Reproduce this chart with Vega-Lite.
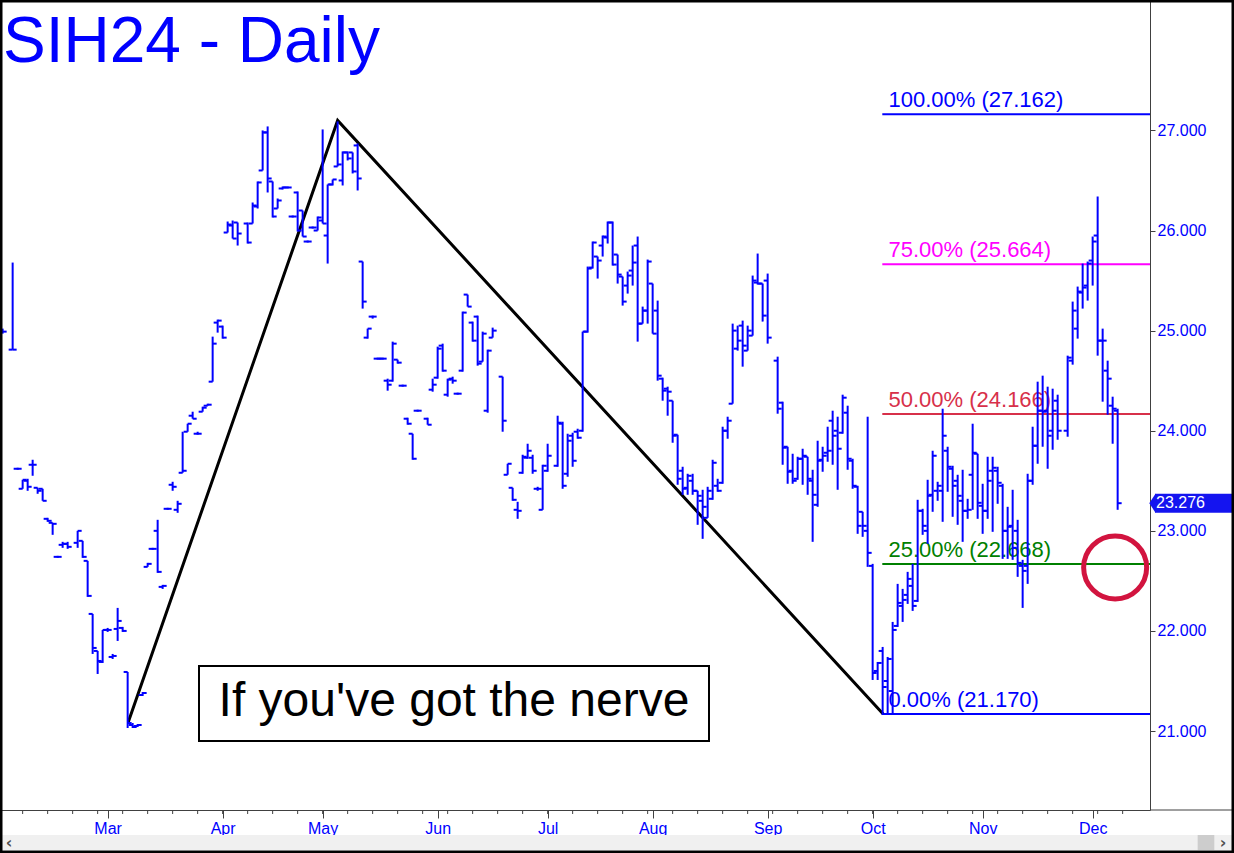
{
  "$schema": "https://vega.github.io/schema/vega-lite/v6.json",
  "width": 1150,
  "height": 810,
  "autosize": {"type": "none"},
  "padding": {"left": 0, "top": 0, "right": 84, "bottom": 43},
  "background": "white",
  "config": {
    "view": {"stroke": null},
    "font": "Liberation Sans",
    "axisX": {"labelOverlap": false, "labelBound": false, "labelFlush": false, "labelPadding": 2, "labelColor": "#0000ff", "labelFontSize": 16, "labelFont": "Liberation Sans", "domainColor": "#404040", "tickColor": "#404040", "tickSize": 8, "grid": false},
    "axisY": {"labelOverlap": false, "labelColor": "#0000ff", "labelFontSize": 16, "labelFont": "Liberation Sans", "labelPadding": 2, "tickSize": 5, "domainColor": "#404040", "tickColor": "#404040", "grid": false}
  },
  "datasets": {
    "bars": [
      {"i":-21,"o":25.00,"h":25.02,"l":24.97,"c":24.99},
      {"i":-19,"o":24.81,"h":25.68,"l":24.81,"c":24.81},
      {"i":-18,"o":23.62,"h":23.63,"l":23.61,"c":23.62},
      {"i":-17,"o":23.42,"h":23.51,"l":23.42,"c":23.51},
      {"i":-16,"o":23.50,"h":23.52,"l":23.40,"c":23.44},
      {"i":-15,"o":23.66,"h":23.71,"l":23.55,"c":23.66},
      {"i":-14,"o":23.43,"h":23.43,"l":23.37,"c":23.40},
      {"i":-13,"o":23.42,"h":23.42,"l":23.30,"c":23.30},
      {"i":-12,"o":23.12,"h":23.13,"l":23.09,"c":23.10},
      {"i":-11,"o":23.08,"h":23.08,"l":22.96,"c":23.07},
      {"i":-10,"o":22.74,"h":22.75,"l":22.73,"c":22.74},
      {"i":-9,"o":22.86,"h":22.89,"l":22.83,"c":22.87},
      {"i":-8,"o":22.87,"h":22.89,"l":22.82,"c":22.84},
      {"i":-6,"o":22.88,"h":23.00,"l":22.83,"c":23.00},
      {"i":-5,"o":22.90,"h":22.90,"l":22.73,"c":22.74},
      {"i":-4,"o":22.70,"h":22.70,"l":22.34,"c":22.35},
      {"i":-3,"o":22.17,"h":22.17,"l":21.77,"c":21.83},
      {"i":-2,"o":21.80,"h":21.80,"l":21.57,"c":21.70},
      {"i":-1,"o":21.69,"h":22.01,"l":21.68,"c":22.01},
      {"i":0,"o":22.01,"h":22.03,"l":21.99,"c":22.01},
      {"i":1,"o":21.74,"h":21.77,"l":21.72,"c":21.75},
      {"i":2,"o":22.02,"h":22.23,"l":21.90,"c":22.10},
      {"i":3,"o":22.03,"h":22.04,"l":21.99,"c":22.00},
      {"i":4,"o":21.59,"h":21.59,"l":21.03,"c":21.08},
      {"i":5,"o":21.06,"h":21.08,"l":21.03,"c":21.04},
      {"i":6,"o":21.05,"h":21.07,"l":21.04,"c":21.06},
      {"i":7,"o":21.36,"h":21.39,"l":21.35,"c":21.38},
      {"i":8,"o":22.64,"h":22.68,"l":22.64,"c":22.67},
      {"i":9,"o":22.82,"h":22.83,"l":22.81,"c":22.82},
      {"i":10,"o":23.00,"h":23.11,"l":22.58,"c":22.59},
      {"i":11,"o":22.44,"h":22.46,"l":22.42,"c":22.45},
      {"i":12,"o":23.22,"h":23.23,"l":23.21,"c":23.22},
      {"i":13,"o":23.46,"h":23.49,"l":23.40,"c":23.44},
      {"i":14,"o":23.21,"h":23.30,"l":23.18,"c":23.27},
      {"i":15,"o":23.58,"h":23.99,"l":23.58,"c":23.60},
      {"i":16,"o":23.99,"h":24.07,"l":23.99,"c":24.07},
      {"i":17,"o":24.15,"h":24.19,"l":24.12,"c":24.12},
      {"i":18,"o":23.97,"h":23.99,"l":23.96,"c":23.97},
      {"i":19,"o":24.19,"h":24.24,"l":24.19,"c":24.23},
      {"i":20,"o":24.25,"h":24.27,"l":24.25,"c":24.26},
      {"i":21,"o":24.49,"h":24.94,"l":24.49,"c":24.87},
      {"i":22,"o":25.08,"h":25.11,"l":24.98,"c":25.10},
      {"i":23,"o":25.04,"h":25.05,"l":24.92,"c":24.93},
      {"i":24,"o":25.98,"h":26.09,"l":25.98,"c":26.06},
      {"i":25,"o":26.05,"h":26.10,"l":25.92,"c":25.92},
      {"i":26,"o":26.08,"h":26.08,"l":25.85,"c":25.97},
      {"i":28,"o":26.07,"h":26.08,"l":25.87,"c":25.88},
      {"i":29,"o":26.07,"h":26.28,"l":26.07,"c":26.25},
      {"i":30,"o":26.24,"h":26.49,"l":26.22,"c":26.48},
      {"i":31,"o":26.60,"h":27.00,"l":26.60,"c":26.98},
      {"i":32,"o":26.98,"h":27.04,"l":26.38,"c":26.52},
      {"i":33,"o":26.49,"h":26.49,"l":26.13,"c":26.14},
      {"i":34,"o":26.22,"h":26.32,"l":26.22,"c":26.30},
      {"i":35,"o":26.42,"h":26.44,"l":26.41,"c":26.43},
      {"i":36,"o":26.43,"h":26.44,"l":26.42,"c":26.43},
      {"i":37,"o":26.14,"h":26.15,"l":26.13,"c":26.14},
      {"i":38,"o":26.38,"h":26.39,"l":25.99,"c":26.00},
      {"i":39,"o":26.20,"h":26.20,"l":25.94,"c":25.94},
      {"i":40,"o":25.89,"h":25.90,"l":25.88,"c":25.89},
      {"i":41,"o":26.03,"h":26.04,"l":26.02,"c":26.03},
      {"i":42,"o":26.00,"h":26.14,"l":26.00,"c":26.13},
      {"i":43,"o":26.10,"h":27.01,"l":26.07,"c":26.07},
      {"i":44,"o":25.95,"h":26.46,"l":25.67,"c":26.46},
      {"i":45,"o":26.46,"h":26.51,"l":26.45,"c":26.51},
      {"i":46,"o":26.64,"h":27.09,"l":26.64,"c":26.66},
      {"i":47,"o":26.50,"h":26.79,"l":26.45,"c":26.78},
      {"i":48,"o":26.78,"h":26.79,"l":26.70,"c":26.72},
      {"i":49,"o":26.78,"h":26.78,"l":26.57,"c":26.59},
      {"i":50,"o":26.85,"h":26.87,"l":26.40,"c":26.52},
      {"i":51,"o":25.69,"h":25.69,"l":25.22,"c":25.29},
      {"i":52,"o":24.93,"h":25.02,"l":24.92,"c":25.02},
      {"i":53,"o":25.14,"h":25.15,"l":25.12,"c":25.14},
      {"i":54,"o":24.72,"h":24.73,"l":24.71,"c":24.72},
      {"i":55,"o":24.72,"h":24.73,"l":24.71,"c":24.72},
      {"i":56,"o":24.50,"h":24.52,"l":24.40,"c":24.46},
      {"i":57,"o":24.50,"h":24.89,"l":24.49,"c":24.87},
      {"i":58,"o":24.71,"h":24.71,"l":24.67,"c":24.68},
      {"i":59,"o":24.45,"h":24.46,"l":24.44,"c":24.45},
      {"i":60,"o":24.12,"h":24.13,"l":24.06,"c":24.07},
      {"i":61,"o":23.97,"h":23.97,"l":23.71,"c":23.72},
      {"i":62,"o":24.20,"h":24.21,"l":24.19,"c":24.20},
      {"i":64,"o":24.12,"h":24.13,"l":24.06,"c":24.06},
      {"i":65,"o":24.41,"h":24.52,"l":24.39,"c":24.46},
      {"i":66,"o":24.53,"h":24.84,"l":24.52,"c":24.82},
      {"i":67,"o":24.85,"h":24.87,"l":24.59,"c":24.60},
      {"i":68,"o":24.36,"h":24.52,"l":24.34,"c":24.51},
      {"i":69,"o":24.52,"h":24.54,"l":24.47,"c":24.50},
      {"i":70,"o":24.37,"h":24.38,"l":24.36,"c":24.37},
      {"i":71,"o":24.60,"h":25.19,"l":24.59,"c":25.18},
      {"i":72,"o":25.36,"h":25.36,"l":25.24,"c":25.24},
      {"i":73,"o":25.08,"h":25.09,"l":24.89,"c":24.90},
      {"i":74,"o":25.14,"h":25.15,"l":24.65,"c":24.67},
      {"i":75,"o":24.69,"h":24.99,"l":24.69,"c":24.97},
      {"i":76,"o":24.20,"h":24.81,"l":24.18,"c":24.80},
      {"i":77,"o":24.93,"h":25.03,"l":24.93,"c":25.00},
      {"i":79,"o":24.54,"h":24.54,"l":23.99,"c":24.10},
      {"i":80,"o":23.56,"h":23.67,"l":23.56,"c":23.67},
      {"i":81,"o":23.43,"h":23.43,"l":23.30,"c":23.31},
      {"i":82,"o":23.21,"h":23.29,"l":23.12,"c":23.20},
      {"i":83,"o":23.58,"h":23.76,"l":23.57,"c":23.74},
      {"i":84,"o":23.73,"h":23.87,"l":23.72,"c":23.80},
      {"i":85,"o":23.73,"h":23.76,"l":23.57,"c":23.60},
      {"i":86,"o":23.42,"h":23.44,"l":23.40,"c":23.42},
      {"i":87,"o":23.21,"h":23.66,"l":23.21,"c":23.65},
      {"i":88,"o":23.60,"h":23.87,"l":23.59,"c":23.75},
      {"i":90,"o":23.65,"h":24.15,"l":23.64,"c":24.08},
      {"i":91,"o":24.07,"h":24.09,"l":23.42,"c":23.45},
      {"i":92,"o":23.57,"h":23.97,"l":23.54,"c":23.90},
      {"i":93,"o":23.95,"h":23.98,"l":23.64,"c":23.70},
      {"i":94,"o":23.99,"h":24.02,"l":23.92,"c":23.93},
      {"i":95,"o":24.00,"h":24.99,"l":23.99,"c":24.99},
      {"i":96,"o":24.99,"h":25.64,"l":24.98,"c":25.62},
      {"i":97,"o":25.63,"h":25.89,"l":25.62,"c":25.88},
      {"i":98,"o":25.74,"h":25.74,"l":25.52,"c":25.70},
      {"i":99,"o":25.85,"h":25.95,"l":25.74,"c":25.94},
      {"i":100,"o":25.93,"h":26.09,"l":25.87,"c":26.08},
      {"i":101,"o":26.08,"h":26.09,"l":25.65,"c":25.66},
      {"i":102,"o":25.76,"h":25.76,"l":25.47,"c":25.56},
      {"i":103,"o":25.54,"h":25.54,"l":25.25,"c":25.29},
      {"i":104,"o":25.45,"h":25.59,"l":25.37,"c":25.55},
      {"i":105,"o":25.60,"h":25.85,"l":25.45,"c":25.68},
      {"i":106,"o":25.85,"h":25.94,"l":24.89,"c":25.07},
      {"i":107,"o":25.07,"h":25.24,"l":25.07,"c":25.20},
      {"i":108,"o":25.20,"h":25.71,"l":25.07,"c":25.69},
      {"i":109,"o":25.47,"h":25.47,"l":24.97,"c":24.97},
      {"i":110,"o":25.20,"h":25.30,"l":24.50,"c":24.55},
      {"i":111,"o":24.52,"h":24.53,"l":24.30,"c":24.40},
      {"i":112,"o":24.42,"h":24.44,"l":24.15,"c":24.39},
      {"i":113,"o":24.30,"h":24.30,"l":23.88,"c":23.95},
      {"i":114,"o":23.96,"h":23.96,"l":23.46,"c":23.52},
      {"i":115,"o":23.60,"h":23.64,"l":23.36,"c":23.42},
      {"i":116,"o":23.43,"h":23.57,"l":23.36,"c":23.55},
      {"i":117,"o":23.50,"h":23.57,"l":23.36,"c":23.40},
      {"i":118,"o":23.40,"h":23.40,"l":23.06,"c":23.35},
      {"i":119,"o":23.30,"h":23.41,"l":22.92,"c":23.24},
      {"i":120,"o":23.13,"h":23.44,"l":23.13,"c":23.40},
      {"i":121,"o":23.32,"h":23.71,"l":23.31,"c":23.68},
      {"i":122,"o":23.45,"h":23.52,"l":23.39,"c":23.40},
      {"i":123,"o":23.48,"h":24.04,"l":23.47,"c":24.00},
      {"i":124,"o":24.00,"h":24.14,"l":23.92,"c":24.10},
      {"i":125,"o":24.27,"h":25.07,"l":24.27,"c":25.00},
      {"i":126,"o":24.82,"h":25.05,"l":24.80,"c":24.90},
      {"i":127,"o":25.05,"h":25.10,"l":24.64,"c":24.85},
      {"i":128,"o":24.80,"h":25.05,"l":24.80,"c":25.00},
      {"i":129,"o":24.95,"h":25.55,"l":24.95,"c":25.50},
      {"i":130,"o":25.48,"h":25.77,"l":25.46,"c":25.47},
      {"i":131,"o":25.47,"h":25.47,"l":25.09,"c":25.15},
      {"i":132,"o":25.50,"h":25.57,"l":24.87,"c":24.93},
      {"i":134,"o":24.70,"h":24.74,"l":24.17,"c":24.22},
      {"i":135,"o":24.28,"h":24.29,"l":23.66,"c":23.83},
      {"i":136,"o":23.84,"h":23.84,"l":23.47,"c":23.59},
      {"i":137,"o":23.60,"h":23.77,"l":23.47,"c":23.50},
      {"i":138,"o":23.52,"h":23.74,"l":23.51,"c":23.72},
      {"i":139,"o":23.72,"h":23.82,"l":23.46,"c":23.75},
      {"i":140,"o":23.74,"h":23.74,"l":23.36,"c":23.52},
      {"i":141,"o":23.50,"h":23.61,"l":22.89,"c":23.36},
      {"i":142,"o":23.26,"h":23.90,"l":23.24,"c":23.70},
      {"i":143,"o":23.71,"h":23.84,"l":23.59,"c":23.75},
      {"i":144,"o":23.78,"h":24.04,"l":23.69,"c":23.80},
      {"i":145,"o":24.10,"h":24.20,"l":23.66,"c":23.95},
      {"i":146,"o":24.00,"h":24.14,"l":23.41,"c":23.82},
      {"i":147,"o":23.98,"h":24.36,"l":23.97,"c":24.33},
      {"i":148,"o":24.18,"h":24.25,"l":23.61,"c":23.72},
      {"i":149,"o":23.70,"h":23.72,"l":23.42,"c":23.45},
      {"i":150,"o":23.44,"h":23.45,"l":22.97,"c":23.05},
      {"i":151,"o":23.19,"h":23.19,"l":22.94,"c":23.05},
      {"i":152,"o":23.00,"h":24.14,"l":22.64,"c":22.78},
      {"i":153,"o":22.65,"h":22.67,"l":21.51,"c":21.58},
      {"i":154,"o":21.60,"h":21.69,"l":21.51,"c":21.68},
      {"i":155,"o":21.80,"h":21.84,"l":21.16,"c":21.44},
      {"i":156,"o":21.50,"h":21.74,"l":21.16,"c":21.72},
      {"i":157,"o":21.40,"h":22.09,"l":21.16,"c":22.01},
      {"i":158,"o":22.05,"h":22.47,"l":22.04,"c":22.28},
      {"i":159,"o":22.25,"h":22.42,"l":22.09,"c":22.31},
      {"i":160,"o":22.36,"h":22.59,"l":22.27,"c":22.52},
      {"i":161,"o":22.45,"h":22.67,"l":22.20,"c":22.25},
      {"i":162,"o":22.30,"h":23.31,"l":22.29,"c":23.20},
      {"i":163,"o":23.20,"h":23.22,"l":22.96,"c":23.05},
      {"i":164,"o":23.00,"h":23.51,"l":22.87,"c":23.35},
      {"i":165,"o":23.36,"h":23.80,"l":23.19,"c":23.75},
      {"i":166,"o":23.40,"h":23.49,"l":23.30,"c":23.45},
      {"i":167,"o":23.40,"h":24.22,"l":23.09,"c":23.95},
      {"i":168,"o":23.80,"h":23.84,"l":23.39,"c":23.64},
      {"i":169,"o":23.62,"h":23.65,"l":23.14,"c":23.45},
      {"i":170,"o":23.50,"h":23.56,"l":23.06,"c":23.35},
      {"i":171,"o":23.30,"h":23.61,"l":22.89,"c":23.20},
      {"i":172,"o":23.20,"h":23.32,"l":23.12,"c":23.21},
      {"i":173,"o":23.56,"h":24.07,"l":23.21,"c":23.78},
      {"i":174,"o":23.77,"h":23.77,"l":23.12,"c":23.28},
      {"i":175,"o":23.25,"h":23.47,"l":22.97,"c":23.20},
      {"i":176,"o":23.20,"h":23.74,"l":23.12,"c":23.50},
      {"i":177,"o":23.60,"h":23.74,"l":22.99,"c":23.63},
      {"i":178,"o":23.60,"h":23.64,"l":23.27,"c":23.48},
      {"i":179,"o":23.45,"h":23.47,"l":22.72,"c":23.00},
      {"i":180,"o":23.00,"h":23.24,"l":22.72,"c":23.04},
      {"i":181,"o":23.05,"h":23.41,"l":22.71,"c":22.83},
      {"i":182,"o":23.00,"h":23.11,"l":22.54,"c":22.68},
      {"i":183,"o":22.65,"h":22.71,"l":22.23,"c":22.60},
      {"i":184,"o":22.65,"h":23.57,"l":22.47,"c":23.50},
      {"i":185,"o":23.50,"h":24.04,"l":23.46,"c":23.85},
      {"i":186,"o":23.85,"h":24.49,"l":23.67,"c":24.20},
      {"i":187,"o":24.20,"h":24.55,"l":23.84,"c":24.19},
      {"i":188,"o":24.20,"h":24.44,"l":23.62,"c":23.95},
      {"i":189,"o":24.00,"h":24.42,"l":23.81,"c":24.20},
      {"i":190,"o":24.30,"h":24.36,"l":23.91,"c":24.00},
      {"i":192,"o":24.00,"h":24.75,"l":23.94,"c":24.73},
      {"i":193,"o":24.70,"h":25.29,"l":24.66,"c":25.20},
      {"i":194,"o":25.02,"h":25.44,"l":24.92,"c":25.39},
      {"i":195,"o":25.38,"h":25.67,"l":25.22,"c":25.43},
      {"i":196,"o":25.45,"h":25.69,"l":25.30,"c":25.67},
      {"i":197,"o":25.70,"h":25.94,"l":25.45,"c":25.89},
      {"i":198,"o":25.95,"h":26.34,"l":24.75,"c":24.90},
      {"i":199,"o":24.90,"h":25.02,"l":24.29,"c":24.90},
      {"i":200,"o":24.60,"h":24.70,"l":24.16,"c":24.52},
      {"i":201,"o":24.25,"h":24.34,"l":23.87,"c":24.22},
      {"i":202,"o":24.20,"h":24.22,"l":23.21,"c":23.276}
    ],
    "fib": [
      {"pct":"100.00%","lvl":27.162,"label":"100.00% (27.162)"},
      {"pct":"75.00%","lvl":25.664,"label":"75.00% (25.664)"},
      {"pct":"50.00%","lvl":24.166,"label":"50.00% (24.166)"},
      {"pct":"25.00%","lvl":22.668,"label":"25.00% (22.668)"},
      {"pct":"0.00%","lvl":21.170,"label":"0.00% (21.170)"}
    ],
    "zigzag": [
      {"i":4.13,"p":21.09},
      {"i":46.0,"p":27.10},
      {"i":155.1,"p":21.17}
    ],
    "weeks": [
      {"i":-17},{"i":-12},{"i":-7},{"i":-2},{"i":3},{"i":8},{"i":13},{"i":18},{"i":23},{"i":28},
      {"i":33},{"i":38},{"i":43},{"i":48},{"i":53},{"i":58},{"i":63},{"i":68},{"i":73},{"i":78},
      {"i":83},{"i":88},{"i":93},{"i":98},{"i":103},{"i":108},{"i":113},{"i":118},{"i":123},{"i":128},
      {"i":133},{"i":138},{"i":143},{"i":148},{"i":153},{"i":158},{"i":163},{"i":168},{"i":173},{"i":178},
      {"i":183},{"i":188},{"i":193},{"i":198},{"i":203}
    ],
    "one": [{}]
  },
  "layer": [
    {
      "data": {"name": "fib"},
      "mark": {"type": "rule", "strokeWidth": 2},
      "encoding": {
        "x": {"datum": 154.93, "type": "quantitative", "title": null,
          "scale": {"domain": [-21.53, 208.47], "nice": false, "zero": false},
          "axis": {
            "values": [0, 23, 43, 66, 88, 109, 132, 153, 175, 197],
            "labelExpr": "datum.value==0?'Mar':datum.value==23?'Apr':datum.value==43?'May':datum.value==66?'Jun':datum.value==88?'Jul':datum.value==109?'Aug':datum.value==132?'Sep':datum.value==153?'Oct':datum.value==175?'Nov':'Dec'",
            "labelOverlap": false,
            "title": null
          }
        },
        "x2": {"datum": 208.47},
        "y": {"field": "lvl", "type": "quantitative", "title": null,
          "scale": {"domain": [20.211, 28.303], "nice": false, "zero": false},
          "axis": {
            "orient": "right",
            "values": [21, 22, 23, 24, 25, 26, 27],
            "format": ".3f",
            "title": null
          }
        },
        "color": {"field": "pct", "type": "nominal", "legend": null,
          "scale": {"domain": ["100.00%","75.00%","50.00%","25.00%","0.00%"], "range": ["#0000ff","#ff00ff","#d7304a","#008000","#0000ff"]}}
      }
    },
    {
      "data": {"name": "weeks"},
      "mark": {"type": "rule", "color": "#404040", "strokeWidth": 1},
      "encoding": {
        "x": {"field": "i", "type": "quantitative", "title": null, "scale": {"domain": [-21.53, 208.47], "nice": false, "zero": false}},
        "y": {"datum": 20.211, "type": "quantitative", "title": null, "scale": {"domain": [20.211, 28.303], "nice": false, "zero": false}},
        "y2": {"datum": 20.171}
      }
    },
    {
      "data": {"name": "fib"},
      "mark": {"type": "text", "align": "left", "baseline": "alphabetic", "dy": -7, "fontSize": 22, "font": "Liberation Sans"},
      "encoding": {
        "x": {"datum": 156.17, "type": "quantitative", "title": null, "scale": {"domain": [-21.53, 208.47], "nice": false, "zero": false}},
        "y": {"field": "lvl", "type": "quantitative", "title": null, "scale": {"domain": [20.211, 28.303], "nice": false, "zero": false}},
        "text": {"field": "label"},
        "color": {"field": "pct", "type": "nominal", "legend": null,
          "scale": {"domain": ["100.00%","75.00%","50.00%","25.00%","0.00%"], "range": ["#0000ff","#ff00ff","#d7304a","#008000","#0000ff"]}}
      }
    },
    {
      "data": {"name": "zigzag"},
      "mark": {"type": "line", "color": "black", "strokeWidth": 3},
      "encoding": {
        "x": {"field": "i", "type": "quantitative", "title": null, "scale": {"domain": [-21.53, 208.47], "nice": false, "zero": false}},
        "y": {"field": "p", "type": "quantitative", "title": null, "scale": {"domain": [20.211, 28.303], "nice": false, "zero": false}}
      }
    },
    {
      "data": {"name": "bars"},
      "mark": {"type": "rule", "color": "#0000ff", "strokeWidth": 2},
      "encoding": {
        "x": {"field": "i", "type": "quantitative", "title": null, "scale": {"domain": [-21.53, 208.47], "nice": false, "zero": false}},
        "y": {"field": "l", "type": "quantitative", "title": null, "scale": {"domain": [20.211, 28.303], "nice": false, "zero": false}},
        "y2": {"field": "h"}
      }
    },
    {
      "data": {"name": "bars"},
      "mark": {"type": "rule", "color": "#0000ff", "strokeWidth": 2, "xOffset": -4, "x2Offset": 0},
      "encoding": {
        "x": {"field": "i", "type": "quantitative", "title": null, "scale": {"domain": [-21.53, 208.47], "nice": false, "zero": false}},
        "x2": {"field": "i"},
        "y": {"field": "o", "type": "quantitative", "title": null, "scale": {"domain": [20.211, 28.303], "nice": false, "zero": false}}
      }
    },
    {
      "data": {"name": "bars"},
      "mark": {"type": "rule", "color": "#0000ff", "strokeWidth": 2, "xOffset": 0, "x2Offset": 4},
      "encoding": {
        "x": {"field": "i", "type": "quantitative", "title": null, "scale": {"domain": [-21.53, 208.47], "nice": false, "zero": false}},
        "x2": {"field": "i"},
        "y": {"field": "c", "type": "quantitative", "title": null, "scale": {"domain": [20.211, 28.303], "nice": false, "zero": false}}
      }
    },
    {
      "data": {"name": "one"},
      "mark": {"type": "rect", "fill": "white", "stroke": "black", "strokeWidth": 2},
      "encoding": {
        "x": {"datum": 18.27, "type": "quantitative", "title": null, "scale": {"domain": [-21.53, 208.47], "nice": false, "zero": false}},
        "x2": {"datum": 120.27},
        "y": {"datum": 21.649, "type": "quantitative", "title": null, "scale": {"domain": [20.211, 28.303], "nice": false, "zero": false}},
        "y2": {"datum": 20.900}
      }
    },
    {
      "data": {"name": "one"},
      "mark": {"type": "text", "align": "center", "baseline": "alphabetic", "fontSize": 48, "font": "Liberation Sans", "color": "black"},
      "encoding": {
        "x": {"datum": 69.27, "type": "quantitative", "title": null, "scale": {"domain": [-21.53, 208.47], "nice": false, "zero": false}},
        "y": {"datum": 21.15, "type": "quantitative", "title": null, "scale": {"domain": [20.211, 28.303], "nice": false, "zero": false}},
        "text": {"value": "If you've got the nerve"}
      }
    },
    {
      "data": {"name": "one"},
      "mark": {"type": "point", "shape": "circle", "filled": false, "size": 3969, "stroke": "#d2143f", "strokeWidth": 5, "opacity": 1},
      "encoding": {
        "x": {"datum": 201.5, "type": "quantitative", "title": null, "scale": {"domain": [-21.53, 208.47], "nice": false, "zero": false}},
        "y": {"datum": 22.633, "type": "quantitative", "title": null, "scale": {"domain": [20.211, 28.303], "nice": false, "zero": false}}
      }
    },
    {
      "data": {"name": "one"},
      "mark": {"type": "rect", "fill": "#1414f0"},
      "encoding": {
        "x": {"datum": 209.47, "type": "quantitative", "title": null, "scale": {"domain": [-21.53, 208.47], "nice": false, "zero": false}},
        "x2": {"datum": 224.87},
        "y": {"datum": 23.181, "type": "quantitative", "title": null, "scale": {"domain": [20.211, 28.303], "nice": false, "zero": false}},
        "y2": {"datum": 23.371}
      }
    },
    {
      "data": {"name": "one"},
      "mark": {"type": "point", "shape": "M -0.6 0 L 0.05 -1 L 0.05 1 Z", "filled": true, "size": 361, "fill": "#1414f0", "strokeWidth": 0, "opacity": 1},
      "encoding": {
        "x": {"datum": 209.47, "type": "quantitative", "title": null, "scale": {"domain": [-21.53, 208.47], "nice": false, "zero": false}},
        "y": {"datum": 23.276, "type": "quantitative", "title": null, "scale": {"domain": [20.211, 28.303], "nice": false, "zero": false}}
      }
    },
    {
      "data": {"name": "one"},
      "mark": {"type": "text", "align": "left", "baseline": "middle", "fontSize": 16, "font": "Liberation Sans", "color": "white"},
      "encoding": {
        "x": {"datum": 209.67, "type": "quantitative", "title": null, "scale": {"domain": [-21.53, 208.47], "nice": false, "zero": false}},
        "y": {"datum": 23.276, "type": "quantitative", "title": null, "scale": {"domain": [20.211, 28.303], "nice": false, "zero": false}},
        "text": {"value": "23.276"}
      }
    },
    {
      "data": {"name": "one"},
      "mark": {"type": "text", "align": "left", "baseline": "alphabetic", "fontSize": 64, "font": "Liberation Sans", "color": "#0000ff"},
      "encoding": {
        "x": {"datum": -20.93, "type": "quantitative", "title": null, "scale": {"domain": [-21.53, 208.47], "nice": false, "zero": false}},
        "y": {"datum": 27.683, "type": "quantitative", "title": null, "scale": {"domain": [20.211, 28.303], "nice": false, "zero": false}},
        "text": {"value": "SIH24 - Daily"}
      }
    },
    {
      "data": {"name": "one"},
      "mark": {"type": "rule", "color": "#404040", "strokeWidth": 1},
      "encoding": {
        "x": {"datum": 208.47, "type": "quantitative", "title": null, "scale": {"domain": [-21.53, 208.47], "nice": false, "zero": false}},
        "x2": {"datum": 225.3},
        "y": {"datum": 20.211, "type": "quantitative", "title": null, "scale": {"domain": [20.211, 28.303], "nice": false, "zero": false}}
      }
    },
    {
      "data": {"name": "one"},
      "mark": {"type": "rect", "fill": "#f0f0f0"},
      "encoding": {
        "x": {"datum": -21.13, "type": "quantitative", "title": null, "scale": {"domain": [-21.53, 208.47], "nice": false, "zero": false}},
        "x2": {"datum": 224.87},
        "y": {"datum": 19.961, "type": "quantitative", "title": null, "scale": {"domain": [20.211, 28.303], "nice": false, "zero": false}},
        "y2": {"datum": 19.811}
      }
    },
    {
      "data": {"name": "one"},
      "mark": {"type": "rect", "fill": "#cdcdcd"},
      "encoding": {
        "x": {"datum": 218.0, "type": "quantitative", "title": null, "scale": {"domain": [-21.53, 208.47], "nice": false, "zero": false}},
        "x2": {"datum": 221.33},
        "y": {"datum": 19.961, "type": "quantitative", "title": null, "scale": {"domain": [20.211, 28.303], "nice": false, "zero": false}},
        "y2": {"datum": 19.811}
      }
    },
    {
      "data": {"name": "one"},
      "mark": {"type": "text", "align": "center", "baseline": "middle", "fontSize": 16, "fontWeight": "bold", "font": "DejaVu Sans", "color": "#505050"},
      "encoding": {
        "x": {"datum": -19.73, "type": "quantitative", "title": null, "scale": {"domain": [-21.53, 208.47], "nice": false, "zero": false}},
        "y": {"datum": 19.886, "type": "quantitative", "title": null, "scale": {"domain": [20.211, 28.303], "nice": false, "zero": false}},
        "text": {"value": "‹"}
      }
    },
    {
      "data": {"name": "one"},
      "mark": {"type": "text", "align": "center", "baseline": "middle", "fontSize": 16, "fontWeight": "bold", "font": "DejaVu Sans", "color": "#505050"},
      "encoding": {
        "x": {"datum": 223.07, "type": "quantitative", "title": null, "scale": {"domain": [-21.53, 208.47], "nice": false, "zero": false}},
        "y": {"datum": 19.886, "type": "quantitative", "title": null, "scale": {"domain": [20.211, 28.303], "nice": false, "zero": false}},
        "text": {"value": "›"}
      }
    },
    {
      "data": {"name": "one"},
      "mark": {"type": "rect", "fillOpacity": 0, "stroke": "black", "strokeWidth": 5},
      "encoding": {
        "x": {"datum": -21.53, "type": "quantitative", "title": null, "scale": {"domain": [-21.53, 208.47], "nice": false, "zero": false}},
        "x2": {"datum": 225.27},
        "y": {"datum": 28.303, "type": "quantitative", "title": null, "scale": {"domain": [20.211, 28.303], "nice": false, "zero": false}},
        "y2": {"datum": 19.781}
      }
    }
  ]
}
